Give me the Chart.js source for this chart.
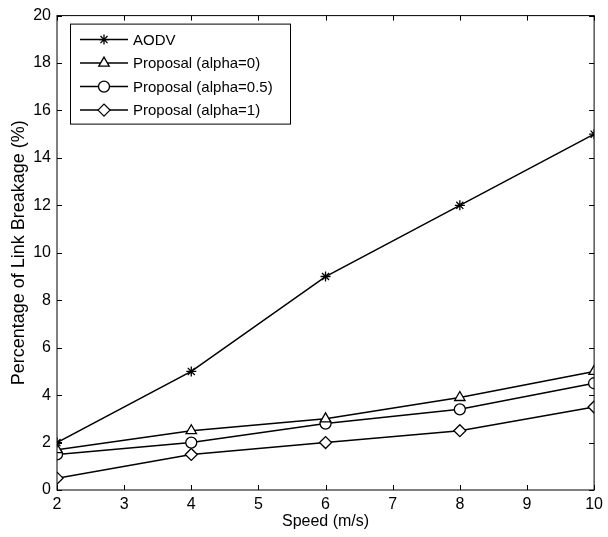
<!DOCTYPE html>
<html>
<head>
<meta charset="utf-8">
<script src="https://cdn.jsdelivr.net/npm/chart.js@4/dist/chart.umd.min.js"></script>
<style>
  html, body { margin: 0; padding: 0; background: #fff; }
  #wrap { width: 608px; height: 537px; }
</style>
</head>
<body>
<div id="wrap"><canvas id="grafica"></canvas></div>
<script>
const speeds = [2, 4, 6, 8, 10];
const aodv = [2, 5, 9, 12, 15];
const alpha0 = [1.7, 2.5, 3.0, 3.9, 5.0];
const alpha05 = [1.5, 2.0, 2.8, 3.4, 4.5];
const alpha1 = [0.5, 1.5, 2.0, 2.5, 3.5];
const seriesNames = ['AODV', 'Proposal (alpha=0)', 'Proposal (alpha=0.5)', 'Proposal (alpha=1)'];
const xTicks = [2, 3, 4, 5, 6, 7, 8, 9, 10];
const yTicks = [0, 2, 4, 6, 8, 10, 12, 14, 16, 18, 20];

const fuente = "'Liberation Sans', Arial, sans-serif";

function serie(label, values, style, radius) {
    return {
        label: label,
        data: speeds.map((s, i) => ({ x: s, y: values[i] })),
        borderColor: '#000',
        borderWidth: 1.5,
        pointStyle: style,
        pointRadius: radius,
        pointBackgroundColor: '#fff',
        pointBorderColor: '#000',
        pointBorderWidth: 1.3,
        tension: 0
    };
}

// marco, ticks hacia dentro y leyenda estilo matlab
const marcoMatlab = {
    id: 'marcoMatlab',
    afterDatasetsDraw(chart) {
        const { ctx, chartArea: a, scales } = chart;
        ctx.save();
        ctx.strokeStyle = '#000';
        ctx.lineWidth = 1;
        ctx.strokeRect(a.left, a.top, a.right - a.left, a.bottom - a.top);
        ctx.beginPath();
        xTicks.forEach(v => {
            const px = Math.round(scales.x.getPixelForValue(v)) + 0.5;
            ctx.moveTo(px, a.bottom); ctx.lineTo(px, a.bottom - 5);
            ctx.moveTo(px, a.top); ctx.lineTo(px, a.top + 5);
        });
        yTicks.forEach(v => {
            const py = Math.round(scales.y.getPixelForValue(v)) + 0.5;
            ctx.moveTo(a.left, py); ctx.lineTo(a.left + 5, py);
            ctx.moveTo(a.right, py); ctx.lineTo(a.right - 5, py);
        });
        ctx.stroke();

        // leyenda
        const lx = a.left + 13, ly = a.top + 8, lw = 220, lh = 100;
        ctx.fillStyle = '#fff';
        ctx.fillRect(lx, ly, lw, lh);
        ctx.strokeRect(lx + 0.5, ly + 0.5, lw, lh);
        ctx.font = '15px ' + fuente;
        ctx.textBaseline = 'middle';
        chart.data.datasets.forEach((ds, i) => {
            const y = ly + 16 + i * 23.5;
            ctx.beginPath();
            ctx.lineWidth = 1.5;
            ctx.moveTo(lx + 10, y); ctx.lineTo(lx + 58, y);
            ctx.stroke();
            ctx.lineWidth = 1.3;
            ctx.fillStyle = '#fff';
            Chart.helpers.drawPoint(ctx, { pointStyle: ds.pointStyle, radius: ds.pointRadius, rotation: 0, borderWidth: 1.3 }, lx + 34, y);
            ctx.fillStyle = '#000';
            ctx.fillText(ds.label, lx + 63, y + 1);
        });
        ctx.restore();
    }
};

const confi = {
    type: 'line',
    data: {
        datasets: [
            serie(seriesNames[0], aodv, 'star', 5),
            serie(seriesNames[1], alpha0, 'triangle', 6),
            serie(seriesNames[2], alpha05, 'circle', 5.5),
            serie(seriesNames[3], alpha1, 'rectRot', 6)
        ]
    },
    options: {
        responsive: true,
        maintainAspectRatio: false,
        animation: false,
        layout: { padding: { top: 14, right: 11, left: 8, bottom: 0 } },
        plugins: { legend: { display: false }, tooltip: { enabled: false } },
        scales: {
            x: {
                type: 'linear',
                min: 2,
                max: 10,
                afterBuildTicks: s => { s.ticks = xTicks.map(v => ({ value: v })); },
                afterFit: s => { s.height = 47; },
                grid: { display: false, drawTicks: false },
                border: { display: false },
                ticks: { color: '#000', font: { family: fuente, size: 16 }, padding: 5 },
                title: { display: true, text: 'Speed (m/s)', color: '#000', font: { family: fuente, size: 16 }, padding: { top: 0, bottom: 6 } }
            },
            y: {
                min: 0,
                max: 20,
                afterBuildTicks: s => { s.ticks = yTicks.map(v => ({ value: v })); },
                afterFit: s => { s.width = 49; },
                grid: { display: false, drawTicks: false },
                border: { display: false },
                ticks: { color: '#000', font: { family: fuente, size: 16 }, padding: 6 },
                title: { display: true, text: 'Percentage of Link Breakage (%)', color: '#000', font: { family: fuente, size: 18 }, padding: { top: 0, bottom: 2 } }
            }
        }
    },
    plugins: [marcoMatlab]
};

new Chart(document.getElementById('grafica'), confi);
</script>
</body>
</html>
